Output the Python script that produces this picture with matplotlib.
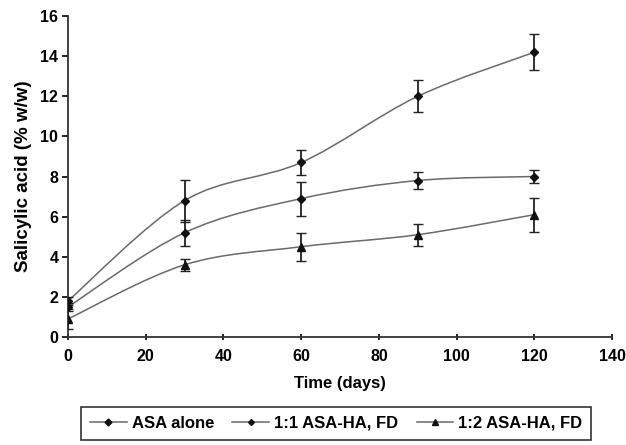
import numpy as np
import matplotlib
matplotlib.use("Agg")
import matplotlib.pyplot as plt
from matplotlib.path import Path
from matplotlib.patches import PathPatch
from matplotlib.lines import Line2D

days = [0, 30, 60, 90, 120]
asa_alone = [1.8, 6.8, 8.7, 12.0, 14.2]
asa_alone_err = [0.2, 1.05, 0.6, 0.8, 0.9]
asa_ha_11 = [1.5, 5.2, 6.9, 7.8, 8.0]
asa_ha_11_err = [0.2, 0.65, 0.85, 0.4, 0.3]
asa_ha_12 = [0.9, 3.6, 4.5, 5.1, 6.1]
asa_ha_12_err = [0.5, 0.3, 0.7, 0.55, 0.85]
labels = ["ASA alone", "1:1 ASA-HA, FD", "1:2 ASA-HA, FD"]

plt.rcParams['font.family'] = ['Liberation Sans', 'DejaVu Sans']
plt.rcParams['font.weight'] = 'bold'

fig = plt.figure(figsize=(6.26, 4.45), dpi=100)
ax = fig.add_axes([0.1086, 0.2427, 0.978 - 0.1086, 0.964 - 0.2427])


def smooth_path(x, y):
    pts = np.column_stack([x, y]).astype(float)
    verts = [pts[0]]
    codes = [Path.MOVETO]
    n = len(pts)
    for i in range(n - 1):
        p0 = pts[i - 1] if i > 0 else pts[i]
        p1 = pts[i]
        p2 = pts[i + 1]
        p3 = pts[i + 2] if i + 2 < n else pts[i + 1]
        c1 = p1 + (p2 - p0) / 6.0
        c2 = p2 - (p3 - p1) / 6.0
        verts += [c1, c2, p2]
        codes += [Path.CURVE4] * 3
    return Path(verts, codes)


series = [
    (asa_alone, asa_alone_err, 'D', 4.5),
    (asa_ha_11, asa_ha_11_err, 'D', 4.0),
    (asa_ha_12, asa_ha_12_err, '^', 5.5),
]
line_color = '#6a6a6a'
handles = []
for (vals, err, mk, ms), lab in zip(series, labels):
    ax.add_patch(PathPatch(smooth_path(days, vals), facecolor='none',
                           edgecolor=line_color, lw=1.1, zorder=2))
    ax.errorbar(days, vals, yerr=err, fmt='none', ecolor='#222222',
                elinewidth=1.3, capsize=3.5, capthick=1.0, zorder=3)
    ax.plot(days, vals, linestyle='none', marker=mk, ms=ms, color='#111111', zorder=4)
    handles.append(Line2D([], [], color=line_color, lw=1.1, marker=mk,
                          ms=ms - 1, mfc='#111111', mec='#111111'))

ax.set_xlim(0, 140)
ax.set_ylim(0, 16)
ax.set_xticks(range(0, 141, 20))
ax.set_yticks(range(0, 17, 2))
for s in ['top', 'right']:
    ax.spines[s].set_visible(False)
for s in ['left', 'bottom']:
    ax.spines[s].set_linewidth(1.3)
    ax.spines[s].set_color('#333333')
ax.tick_params(axis='y', direction='out', length=4, width=1.2, labelsize=11.5, pad=3)
ax.tick_params(axis='x', direction='inout', length=5, width=1.2, labelsize=11.5, pad=6)
for t in ax.get_xticklabels() + ax.get_yticklabels():
    t.set_fontweight('bold')

ax.set_xlabel('Time (days)', fontsize=12, fontweight='bold', labelpad=9)
ax.set_ylabel('Salicylic acid (% w/w)', fontsize=13.5, fontweight='bold', labelpad=6)

leg = fig.legend(handles, labels, loc='center', bbox_to_anchor=(0.537, 0.049),
                 ncol=3, fontsize=12, frameon=True, fancybox=False,
                 edgecolor='black', handlelength=2.2, handletextpad=0.3,
                 columnspacing=1.1, borderpad=0.55, borderaxespad=0)
leg.get_frame().set_linewidth(1.2)
for t in leg.get_texts():
    t.set_fontweight('bold')

fig.savefig('out.png', dpi=100)
